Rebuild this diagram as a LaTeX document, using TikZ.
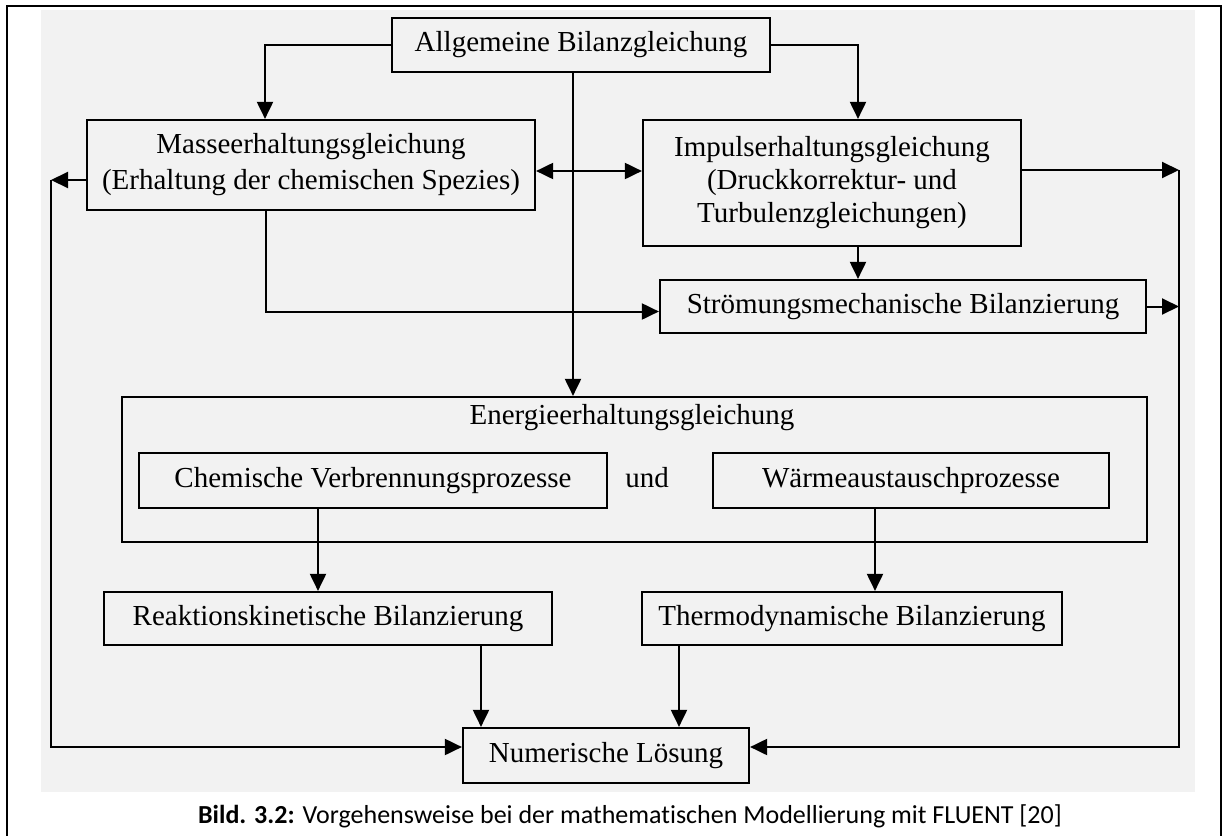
\documentclass[tikz,border=0pt]{standalone}
\usepackage{fontspec}
\setmainfont{Liberation Serif}
\newfontfamily\capfont[Ligatures=NoCommon]{Carlito}
\usetikzlibrary{arrows.meta}
\begin{document}
\begin{tikzpicture}[x=0.5pt,y=-0.5pt,
  box/.style={draw,line width=1.1pt,inner sep=0pt,align=center,font=\fontsize{14.5}{18}\selectfont},
  ibox/.style={box,line width=0.9pt},
  lbl/.style={inner sep=0pt,font=\fontsize{14.5}{18}\selectfont},
  arr/.style={line width=1pt,-{Triangle[length=8.5pt,width=8pt]}},
  arrb/.style={line width=1pt,{Triangle[length=8.5pt,width=8pt]}-{Triangle[length=8.5pt,width=8pt]}}]
\useasboundingbox (0,0) rectangle (1223,836);
% scanned background
\fill[black!5] (41,10) rectangle (1195,792);
% outer frame
\draw[line width=1.4pt] (7,836) -- (7,6) -- (1221,6) -- (1221,836);

% boxes
\node[box,minimum width=189pt,minimum height=27pt] (A) at (581,45) {Allgemeine Bilanzgleichung};
\node[box,minimum width=224pt,minimum height=45pt] (M) at (311,165) {Masseerhaltungsgleichung\\(Erhaltung der chemischen Spezies)};
\node[box,minimum width=189pt,minimum height=63pt,font=\fontsize{14.5}{16.5}\selectfont] (I) at (832,183) {Impulserhaltungsgleichung\\(Druckkorrektur- und\\Turbulenzgleichungen)};
\node[box,minimum width=243pt,minimum height=26.5pt] (S) at (903,306.5) {Strömungsmechanische Bilanzierung};
\node[box,minimum width=512.5pt,minimum height=72.5pt] (E) at (634.5,469.5) {};
\node[lbl] (Et) at (632,418) {Energieerhaltungsgleichung};
\node[ibox,minimum width=234pt,minimum height=27.5pt] (C) at (373,480.5) {Chemische Verbrennungsprozesse};
\node[lbl] (und) at (647,478) {und};
\node[ibox,minimum width=198pt,minimum height=27.5pt] (W) at (911,480.5) {Wärmeaustauschprozesse};
\node[box,minimum width=224pt,minimum height=26.5pt] (R) at (328,618.5) {Reaktionskinetische Bilanzierung};
\node[box,minimum width=210pt,minimum height=26.5pt] (T) at (852,618.5) {Thermodynamische Bilanzierung};
\node[box,minimum width=143pt,minimum height=27.5pt] (N) at (606,755.5) {Numerische Lösung};

% side collector lines
\coordinate (L1) at (51,180);
\coordinate (L2) at (51,747);
\coordinate (R1) at (1179,170);
\coordinate (R2) at (1179,747);

% connectors
\draw[arr] (A.west) -| ([xshift=-23pt]M.north);
\draw[arr] (A.east) -| ([xshift=13pt]I.north);
\draw[arr] ([xshift=-4pt]A.south) -- ([xshift=-4pt]A.south |- E.north);
\draw[arrb] ([yshift=-3pt]M.east) -- ([yshift=-3pt]M.east -| I.west);
\draw[arr] ([yshift=-7.5pt]M.west) -- (L1);
\draw[arr] (L1) -- (L2) -- (L2 -| N.west);
\draw[arr] ([xshift=-22.5pt]M.south) |- ([yshift=-2.5pt]S.west);
\draw[arr] ([xshift=13pt]I.south) -- ([xshift=13pt]I.south |- S.north);
\draw[arr] ([yshift=6.5pt]I.east) -- ([yshift=6.5pt]I.east -| R1);
\draw[arr] (S.east) -- (S.east -| R1);
\draw[arr] (R1) -- (R2) -- (R2 -| N.east);
\draw[arr] ([xshift=-27.5pt]C.south) -- ([xshift=-27.5pt]C.south |- R.north);
\draw[arr] ([xshift=-18pt]W.south) -- ([xshift=-18pt]W.south |- T.north);
\draw[arr] ([xshift=76.5pt]R.south) -- ([xshift=76.5pt]R.south |- N.north);
\draw[arr] ([xshift=-86.5pt]T.south) -- ([xshift=-86.5pt]T.south |- N.north);

% caption
\node[inner sep=0pt,font=\capfont\fontsize{13}{15}\selectfont] (cap) at (630,816) {\textbf{Bild. 3.2:} Vorgehensweise bei der mathematischen Modellierung mit FLUENT [20]};
\end{tikzpicture}
\end{document}
